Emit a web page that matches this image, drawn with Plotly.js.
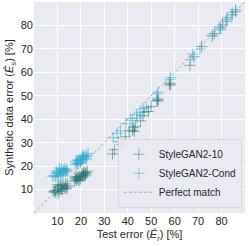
<!DOCTYPE html>
<html><head><meta charset="utf-8">
<script src="https://cdn.plot.ly/plotly-3.0.1.min.js"></script>
<style>html,body{margin:0;padding:0;background:#fff}#c{width:249px;height:246px}</style>
</head><body><div id="c"></div>
<script>
const sg10X = [8.2,8.8,9.3,9.9,10.3,10.6,11.0,11.4,11.8,12.3,12.7,13.1,13.5,14.0,14.4,10.1,9.0,12.0,13.8,11.2,
  17.2,17.6,18.0,18.5,18.9,19.3,19.8,20.2,20.6,21.0,21.5,21.9,22.3,22.8,18.2,19.5,20.9,22.0,17.9,21.3,
  33.5,34.3,36.0,37.4,39.0,40.6,42.0,42.5,43.2,42.8,45.4,46.5,47.0,48.8,50.0,52.5,53.0,52.8,57.7,58.0,58.3,66.5,68.2,71.5,76.0,77.0,79.5,80.5,82.0,84.5,86.0];
const sg10Y = [9.0,9.5,8.7,9.8,8.2,11.0,9.2,11.8,10.5,12.0,11.2,10.6,12.4,11.0,11.6,12.2,9.3,10.0,10.3,11.5,
  13.6,14.8,13.9,15.1,14.2,15.5,14.6,16.0,15.3,16.5,15.8,17.2,16.9,17.8,14.5,13.8,16.8,16.2,15.6,17.5,
  25.2,27.0,30.4,29.3,32.5,35.0,35.3,36.4,37.0,34.8,39.3,41.5,43.0,43.3,45.5,48.0,48.5,47.8,55.4,54.5,55.0,63.0,66.6,71.0,75.5,76.6,79.0,80.2,81.8,84.5,86.0];
const condX = [8.0,8.6,9.2,9.7,10.2,10.5,11.0,11.3,11.8,12.2,12.6,13.0,13.4,13.9,14.3,10.8,9.5,12.4,13.6,11.5,
  17.5,17.9,18.3,18.8,19.2,19.6,20.0,20.5,20.9,21.3,21.8,22.2,22.6,23.1,18.6,19.9,21.1,22.4,18.1,20.7,
  33.8,35.5,36.9,39.2,41.2,42.0,43.7,44.0,45.2,46.6,48.0,52.3,53.0,52.6,58.0,58.3,66.8,67.6,70.8,76.3,79.0,79.7,82.0,82.5,84.5,86.0];
const condY = [15.6,16.0,15.4,16.8,17.2,15.8,18.4,17.0,18.8,17.6,18.2,19.0,17.4,18.6,17.9,19.2,17.8,16.5,18.0,16.2,
  20.6,21.8,21.0,22.4,21.5,23.0,22.2,23.6,22.8,24.0,23.4,24.8,24.2,25.4,20.9,21.2,24.5,23.0,22.6,24.2,
  32.1,34.0,35.0,38.1,40.3,39.5,42.0,40.5,43.0,44.5,45.0,49.0,51.5,50.8,57.0,57.8,65.5,67.7,70.0,75.9,79.4,78.2,82.6,83.3,85.5,86.8];
const lineX = [0, 90];
const lineY = [0, 90];
const ticks = [10,20,30,40,50,60,70,80];

const font = {family: 'Liberation Sans, Arial, sans-serif', color: '#262626'};
const mk = (c) => ({symbol: 'cross-thin-open', size: 8, color: c, opacity: 0.5, line: {width: 1, color: c}});

const data = [
  {x: sg10X, y: sg10Y, mode: 'markers', type: 'scatter', name: 'StyleGAN2-10', marker: mk('#1b6b6b')},
  {x: condX, y: condY, mode: 'markers', type: 'scatter', name: 'StyleGAN2-Cond', marker: mk('#1da6cc')},
  {x: lineX, y: lineY, mode: 'lines', type: 'scatter', name: 'Perfect match', line: {color: '#aaaaaa', width: 1, dash: '3px,2px'}}
];
const layout = {
  width: 249, height: 246,
  margin: {l: 34, r: 4, t: 2, b: 33},
  paper_bgcolor: '#ffffff', plot_bgcolor: '#eaeaf2',
  font: Object.assign({size: 11}, font),
  showlegend: true,
  legend: {x: 0.985, y: 0.025, xanchor: 'right', yanchor: 'bottom', bgcolor: 'rgba(234,234,242,0.85)',
    bordercolor: '#d8d8de', borderwidth: 1, font: Object.assign({size: 10}, font), tracegroupgap: 0, itemwidth: 30},
  xaxis: {range: [0, 90], tickvals: ticks, showgrid: true, gridcolor: '#ffffff', gridwidth: 1, zeroline: false,
    showline: false, ticks: '', tickfont: Object.assign({size: 11}, font),
    title: {text: 'Test error (<i>Ê</i><sub><i>r</i></sub>) [%]', font: Object.assign({size: 11}, font), standoff: 4}},
  yaxis: {range: [0, 90], tickvals: ticks, showgrid: true, gridcolor: '#ffffff', gridwidth: 1, zeroline: false,
    showline: false, ticks: '', tickfont: Object.assign({size: 11}, font),
    title: {text: 'Synthetic data error (<i>Ê</i><sub><i>s</i></sub>) [%]', font: Object.assign({size: 11}, font), standoff: 4}}
};
Plotly.newPlot('c', data, layout, {displayModeBar: false, staticPlot: true});
</script></body></html>
